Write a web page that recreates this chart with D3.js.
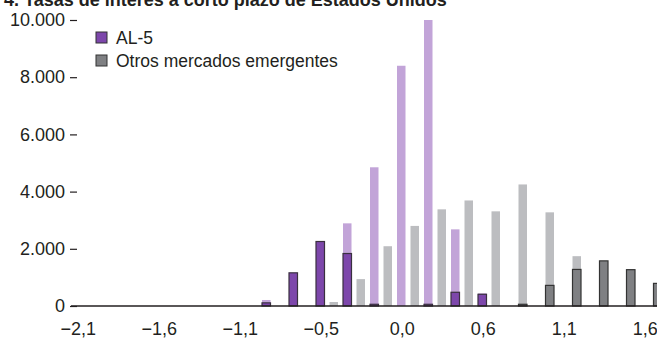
<!DOCTYPE html>
<html>
<head>
<meta charset="utf-8">
<script src="https://cdn.jsdelivr.net/npm/d3@7"></script>
<style>
    html, body { margin: 0; padding: 0; background: #fff; }
    svg { display: block; font-family: "Liberation Sans", Arial, sans-serif; }
</style>
</head>
<body>
<div id="chart"></div>
<script>
// bins along the x axis (22 bins, a label every third bin)
var bins = d3.range(22);
var tickLabels = ["\u22122,1", "\u22121,6", "\u22121,1", "\u22120,5", "0,0", "0,6", "1,1", "1,6"];

// AL-5: pale bars (behind) and dark outlined bars (front)
var al5Pale = [0, 0, 0, 0, 0, 0, 0, 210, 0, 0, 2890, 4850, 8400, 10000, 2680, 440, 0, 0, 0, 0, 0, 0];
var al5Dark = [0, 0, 0, 0, 0, 0, 0, 110, 1160, 2255, 1835, 60, 0, 60, 480, 410, 0, 0, 0, 0, 0, 0];

// Otros mercados emergentes
var otrosPale = [0, 0, 0, 0, 0, 0, 0, 0, 0, 140, 940, 2090, 2800, 3380, 3690, 3310, 4250, 3275, 1742, 0, 0, 0];
var otrosDark = [0, 0, 0, 0, 0, 0, 0, 0, 0, 0, 0, 0, 0, 0, 0, 0, 60, 721, 1279, 1578, 1270, 791];

var yTicks = [0, 2000, 4000, 6000, 8000, 10000];

(function() {
    var svgWidth = 657, svgHeight = 339;

    var svg = d3.select("#chart")
        .append("svg")
        .attr("width", svgWidth)
        .attr("height", svgHeight);

    var x = d3.scaleBand()
        .domain(bins)
        .range([73, 73 + 27 * (bins.length - 0.185)])
        .paddingInner(0.185)
        .paddingOuter(0);

    var xSeries = d3.scaleBand()
        .domain(["al5", "otros"])
        .range([0, x.bandwidth()])
        .paddingInner(0.37);

    var y = d3.scaleLinear().domain([0, 10000]).range([306, 20]);

    var fmt = function(d) { return d3.format(",")(d).replace(/,/g, "."); };

    // title, cut off at the top as in the source picture
    svg.append("text")
        .attr("x", 4)
        .attr("y", 6)
        .style("font-size", "18px")
        .style("font-weight", "bold")
        .style("fill", "#231f20")
        .text("4. Tasas de interés a corto plazo de Estados Unidos");

    // y axis: labels with short dashes, no axis line
    var yAxis = svg.append("g")
        .attr("transform", "translate(77,0)")
        .call(d3.axisLeft(y).tickValues(yTicks).tickSize(7).tickPadding(5).tickFormat(fmt));
    yAxis.select(".domain").remove();
    yAxis.selectAll(".tick line").attr("stroke", "#231f20").attr("stroke-width", 1.2);
    yAxis.selectAll(".tick text")
        .style("font-family", "\"Liberation Sans\", Arial, sans-serif")
        .style("font-size", "18px")
        .style("fill", "#231f20");

    var series = [
        {key: "al5", values: al5Pale, fill: "#c2a4d8", stroke: null},
        {key: "otros", values: otrosPale, fill: "#bcbdc0", stroke: null},
        {key: "al5", values: al5Dark, fill: "#7d47ab", stroke: "#3a3040"},
        {key: "otros", values: otrosDark, fill: "#7f8083", stroke: "#333333"}
    ];

    series.forEach(function(s) {
        svg.append("g").selectAll("rect")
            .data(bins.filter(function(i) { return s.values[i] > 0; }))
            .enter().append("rect")
            .attr("x", function(i) { return x(i) + xSeries(s.key); })
            .attr("width", xSeries.bandwidth())
            .attr("y", function(i) { return y(s.values[i]); })
            .attr("height", function(i) { return y(0) - y(s.values[i]); })
            .style("fill", s.fill)
            .style("stroke", s.stroke || "none")
            .style("stroke-width", 1.2);
    });

    // zero line
    svg.append("line")
        .attr("x1", 71).attr("x2", svgWidth)
        .attr("y1", y(0)).attr("y2", y(0))
        .attr("stroke", "#231f20")
        .attr("stroke-width", 1.5);

    // x labels every third bin, centred on the AL-5 bar
    svg.append("g").selectAll("text")
        .data(tickLabels)
        .enter().append("text")
        .attr("x", function(d, i) { return x(i * 3) + xSeries("al5") + xSeries.bandwidth() / 2 + 1; })
        .attr("y", 335)
        .attr("text-anchor", "middle")
        .style("font-size", "18px")
        .style("fill", "#231f20")
        .text(function(d) { return d; });

    // legend
    var legendItems = [
        {label: "AL-5", fill: "#7d47ab"},
        {label: "Otros mercados emergentes", fill: "#7f8083"}
    ];
    var legend = svg.append("g").selectAll("g")
        .data(legendItems)
        .enter().append("g")
        .attr("transform", function(d, i) { return "translate(96," + (32 + i * 23) + ")"; });
    legend.append("rect")
        .attr("width", 11).attr("height", 11)
        .style("fill", function(d) { return d.fill; })
        .style("stroke", "#333")
        .style("stroke-width", 1);
    legend.append("text")
        .attr("x", 20)
        .attr("y", 12)
        .style("font-size", "17.5px")
        .style("fill", "#231f20")
        .text(function(d) { return d.label; });
})();
</script>
</body>
</html>
